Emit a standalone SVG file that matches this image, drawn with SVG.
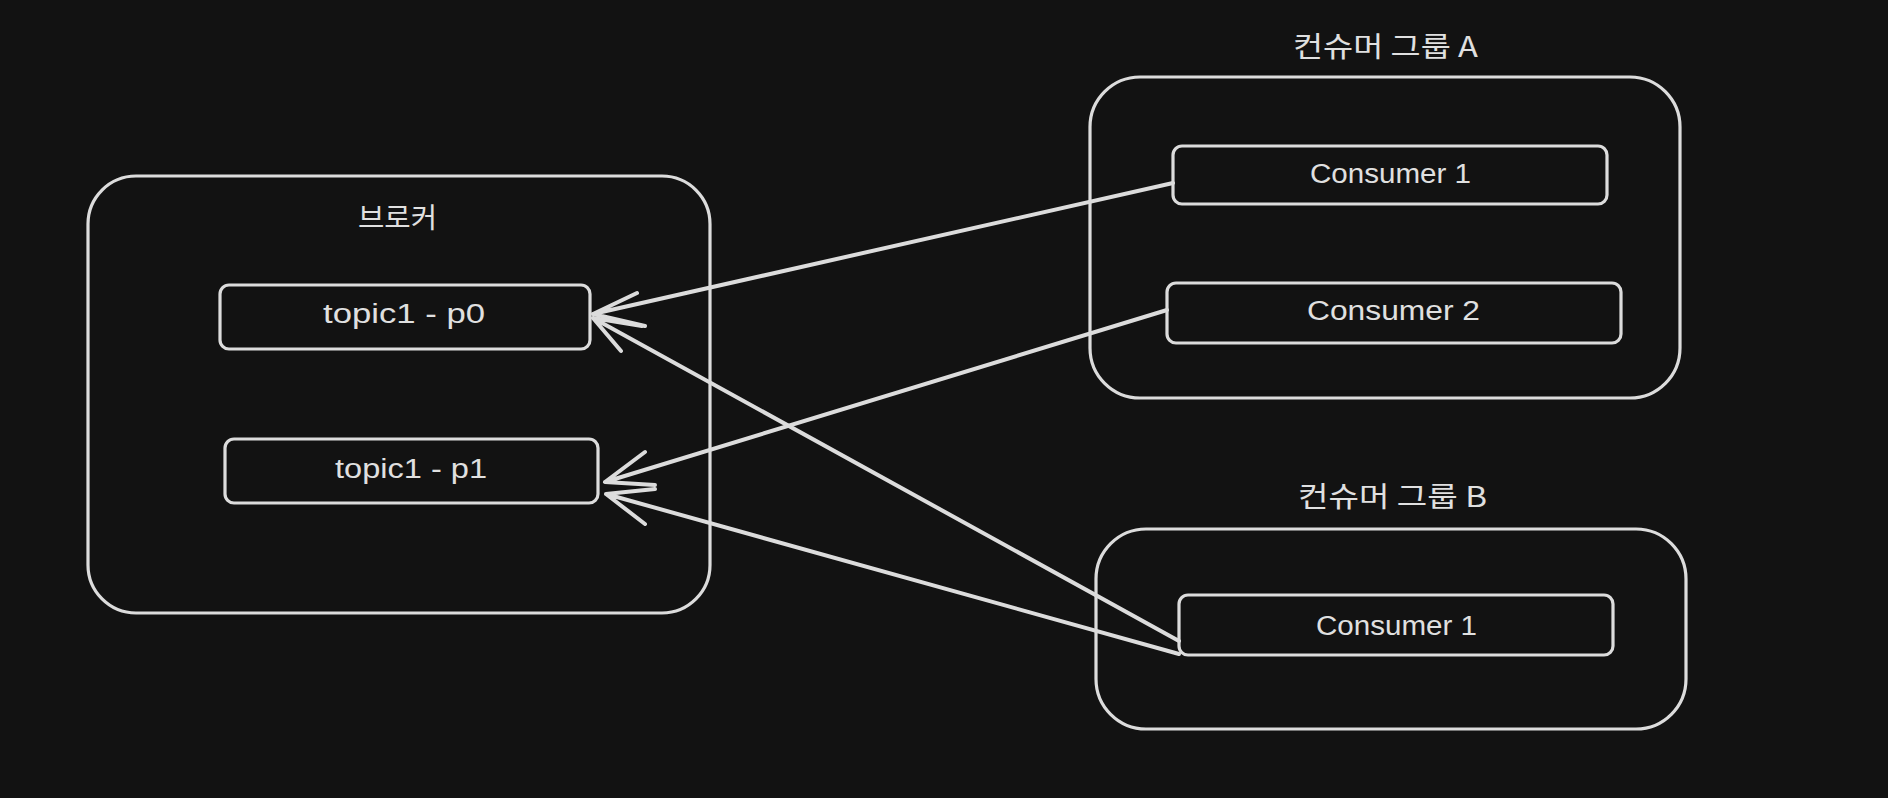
<svg xmlns="http://www.w3.org/2000/svg" width="1888" height="798" viewBox="0 0 1888 798">
<style>
.box{fill:none;stroke:#dcdcdc;stroke-width:3.2;stroke-linejoin:round}
.lbl{fill:#e0e0e0;font-family:"Liberation Sans","Noto Sans",sans-serif;font-size:27px;text-anchor:middle}
.ko{fill:#e0e0e0;font-family:"Noto Sans CJK KR","Noto Sans",sans-serif;font-size:28px;text-anchor:middle}
.ar{fill:none;stroke:#dcdcdc;stroke-width:4;stroke-linecap:round;stroke-linejoin:round}
</style>
<rect width="1888" height="798" fill="#121212"/>
<g id="broker">
<rect class="box" x="88" y="176" width="622" height="437" rx="48"/>
<text class="ko" x="397.5" y="228" textLength="79" lengthAdjust="spacingAndGlyphs">브로커</text>
</g>
<g id="topic1-p0">
<rect class="box" x="220" y="285" width="370" height="64" rx="9"/>
<text class="lbl" x="404" y="323" textLength="162" lengthAdjust="spacingAndGlyphs">topic1 - p0</text>
</g>
<g id="topic1-p1">
<rect class="box" x="225" y="439" width="373" height="64" rx="9"/>
<text class="lbl" x="411" y="478" textLength="152" lengthAdjust="spacingAndGlyphs">topic1 - p1</text>
</g>
<g id="group-a">
<text class="ko" x="1385.5" y="57" textLength="185" lengthAdjust="spacingAndGlyphs">컨슈머 그룹 A</text>
<rect class="box" x="1090" y="77" width="590" height="321" rx="50"/>
</g>
<g id="consumer-a1">
<rect class="box" x="1173" y="146" width="434" height="58" rx="9"/>
<text class="lbl" x="1390.5" y="183" textLength="161" lengthAdjust="spacingAndGlyphs">Consumer 1</text>
</g>
<g id="consumer-a2">
<rect class="box" x="1167" y="283" width="454" height="60" rx="9"/>
<text class="lbl" x="1393.5" y="320" textLength="173" lengthAdjust="spacingAndGlyphs">Consumer 2</text>
</g>
<g id="group-b">
<text class="ko" x="1392.5" y="507" textLength="189" lengthAdjust="spacingAndGlyphs">컨슈머 그룹 B</text>
<rect class="box" x="1096" y="529" width="590" height="200" rx="50"/>
</g>
<g id="consumer-b1">
<rect class="box" x="1179" y="595" width="434" height="60" rx="9"/>
<text class="lbl" x="1396.5" y="635" textLength="161" lengthAdjust="spacingAndGlyphs">Consumer 1</text>
</g>
<g id="connectors">
<path class="ar" d="M1173 183 L593 314 M637 293 L593 314 L645 326"/>
<path class="ar" d="M1167 310 L605 482 M645 452 L605 482 L655 485"/>
<path class="ar" d="M1179 641 L593 318 M642 326 L593 318 L621 351"/>
<path class="ar" d="M1179 654 L606 494 M655 489 L606 494 L645 524"/>
</g>
</svg>
